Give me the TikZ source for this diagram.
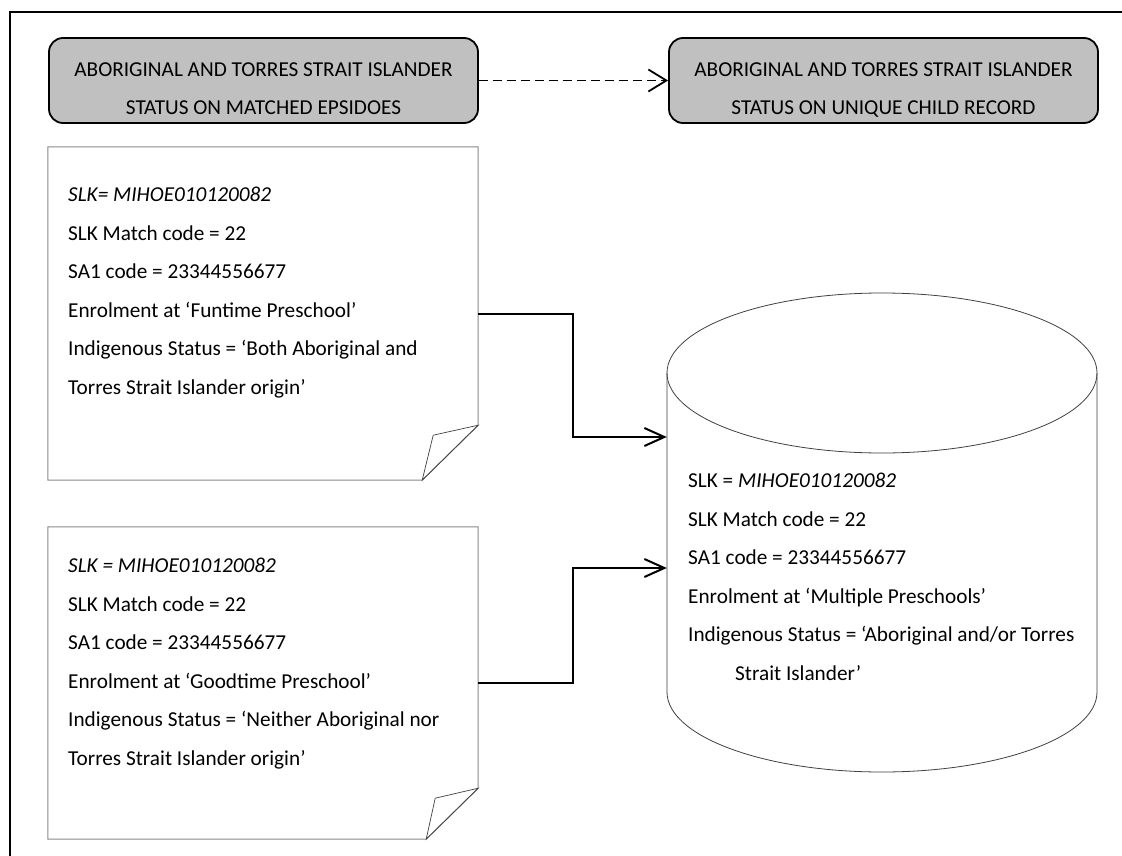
\documentclass[tikz,border=0pt]{standalone}
\usepackage{fontspec}
\setmainfont{Carlito}
\usetikzlibrary{arrows.meta,calc}
\definecolor{boxgray}{HTML}{C0C0C0}
\definecolor{notegray}{HTML}{8A8A8A}
\definecolor{inkdark}{HTML}{404040}
\begin{document}
\begin{tikzpicture}[x=1pt,y=-1pt,
  every node/.style={font=\fontsize{21.25}{25}\selectfont, inner sep=0pt},
  headbox/.style={draw=black, line width=1.8pt, fill=boxgray, rounded corners=14pt,
                  minimum width=429pt, minimum height=85pt},
  notebox/.style={minimum width=430pt},
  noteedge/.style={draw=notegray, line width=1pt},
  fold/.style={draw=inkdark, line width=0.7pt},
  cylline/.style={draw=inkdark, line width=0.8pt},
  txt/.style={anchor=base west},
  headtxt/.style={anchor=base},
  conn/.style={draw=black, line width=2pt, -{Straight Barb[length=20pt,width=18pt]}},
  link/.style={draw=black, line width=1.8pt, dash pattern=on 9pt off 5pt,
               -{Straight Barb[length=18pt,width=22pt]}},
]
% page area and outer frame
\clip (0,0) rectangle (1122,856);
\fill[white] (0,0) rectangle (1122,856);
\draw[line width=1.8pt] (10,880) -- (10,12) -- (1140,12);

% heading boxes
\node[headbox] (srcHead) at (263.5,80.5) {};
\node[headbox] (dstHead) at (883.5,80.5) {};
\node[headtxt] (srcHeadA) at (263.5,77) {ABORIGINAL AND TORRES STRAIT ISLANDER};
\node[headtxt] (srcHeadB) at (263.5,115) {STATUS ON MATCHED EPSIDOES};
\node[headtxt] (dstHeadA) at (883.5,77) {ABORIGINAL AND TORRES STRAIT ISLANDER};
\node[headtxt] (dstHeadB) at (883.5,115) {STATUS ON UNIQUE CHILD RECORD};
\draw[link] (srcHead.east) -- (dstHead.west);

% first episode note
\node[notebox, minimum height=333pt] (note1) at (263,313.5) {};
\draw[noteedge] (note1.north west) -- (note1.north east)
  -- ($(note1.south east)+(0,-55)$) -- ($(note1.south east)+(-56,0)$)
  -- (note1.south west) -- cycle;
\draw[fold] ($(note1.south east)+(0,-55)$) -- ($(note1.south east)+(-45,-45)$)
  -- ($(note1.south east)+(-56,0)$) -- cycle;
\foreach \t [count=\i] in {{\itshape SLK= MIHOE010120082},
    SLK Match code = 22, SA1 code = 23344556677,
    Enrolment at ‘Funtime Preschool’,
    Indigenous Status = ‘Both Aboriginal and,
    Torres Strait Islander origin’}
  \node[txt] (noteAline\i) at (68,{201.5+38.5*(\i-1)}) {\t};

% second episode note
\node[notebox, minimum height=312pt] (note2) at (263,683) {};
\draw[noteedge] (note2.north west) -- (note2.north east)
  -- ($(note2.south east)+(0,-51)$) -- ($(note2.south east)+(-52,0)$)
  -- (note2.south west) -- cycle;
\draw[fold] ($(note2.south east)+(0,-51)$) -- ($(note2.south east)+(-43,-41)$)
  -- ($(note2.south east)+(-52,0)$) -- cycle;
\foreach \t [count=\i] in {{\itshape SLK = MIHOE010120082},
    SLK Match code = 22, SA1 code = 23344556677,
    Enrolment at ‘Goodtime Preschool’,
    Indigenous Status = ‘Neither Aboriginal nor,
    Torres Strait Islander origin’}
  \node[txt] (noteBline\i) at (68,{572.5+38.5*(\i-1)}) {\t};

% unique child record store
\draw[cylline] (667,373) -- (667,692)
  arc[start angle=180, end angle=360, x radius=215pt, y radius=80pt] -- (1097,373);
\draw[cylline] (882,373) ellipse [x radius=215pt, y radius=80pt];
\node[minimum width=430pt, minimum height=319pt] (db) at (882,532.5) {};
\node[txt] (dbline1) at (688,487.5) {SLK = \textit{MIHOE010120082}};
\node[txt] (dbline2) at (688,526) {SLK Match code = 22};
\node[txt] (dbline3) at (688,564.5) {SA1 code = 23344556677};
\node[txt] (dbline4) at (688,603) {Enrolment at ‘Multiple Preschools’};
\node[txt] (dbline5) at (688,641.5) {Indigenous Status = ‘Aboriginal and/or Torres};
\node[txt] (dbline6) at (735,680) {Strait Islander’};

% connectors into the store
\draw[conn] (note1.east) -| (573,437) -- (db.west |- 573,437);
\draw[conn] (note2.east) -| (573,568) -- (db.west |- 573,568);
\end{tikzpicture}
\end{document}
